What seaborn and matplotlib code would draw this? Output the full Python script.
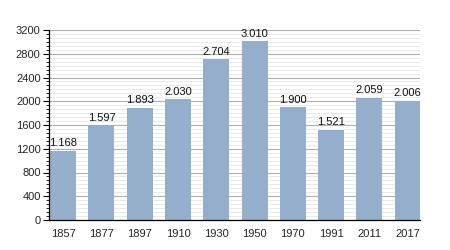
import matplotlib
matplotlib.use("Agg")
import matplotlib.pyplot as plt
import seaborn as sns
import pandas as pd
from matplotlib.ticker import MultipleLocator, AutoMinorLocator

years = ["1857", "1877", "1897", "1910", "1930", "1950", "1970", "1991", "2011", "2017"]
population = [1168, 1597, 1893, 2030, 2704, 3010, 1900, 1521, 2059, 2006]
labels = ["1.168", "1.597", "1.893", "2.030", "2.704", "3.010", "1.900", "1.521", "2.059", "2.006"]

sns.set_style("white")
plt.rcParams['font.family'] = ['Liberation Sans', 'DejaVu Sans']

df = pd.DataFrame({"year": years, "pop": population})

fig = plt.figure(figsize=(4.5, 2.5), dpi=100)
ax = fig.add_axes([49/450, 30/250, 371/450, 190/250])

ax.yaxis.set_major_locator(MultipleLocator(400))
ax.yaxis.set_minor_locator(AutoMinorLocator(6))
ax.grid(which="major", axis="y", color="#b0b0b0", linewidth=0.8, zorder=0)
ax.grid(which="minor", axis="y", color="#e6e6e6", linewidth=0.6, zorder=0)
ax.set_axisbelow(True)

sns.barplot(data=df, x="year", y="pop", color="#94aecb", saturation=1,
            width=0.68, ax=ax, zorder=2, linewidth=0)

for i, (v, t) in enumerate(zip(population, labels)):
    ax.text(i, v + 45, t, ha="center", va="bottom", fontsize=8, color="#111111")

ax.set_ylim(0, 3200)
ax.set_xlim(-0.37, 9.32)
ax.set_xlabel("")
ax.set_ylabel("")
for s in ["top", "right"]:
    ax.spines[s].set_visible(False)
ax.spines["left"].set_color("black")
ax.spines["bottom"].set_color("black")
ax.spines["left"].set_linewidth(0.9)
ax.spines["bottom"].set_linewidth(0.9)
ax.tick_params(axis="y", which="major", left=True, length=4, width=0.8, labelsize=8, pad=2, color="black")
ax.tick_params(axis="y", which="minor", left=True, length=2.5, width=0.6, color="black")
ax.tick_params(axis="x", bottom=False, labelsize=8, pad=3)

fig.savefig("out.png", dpi=100)
